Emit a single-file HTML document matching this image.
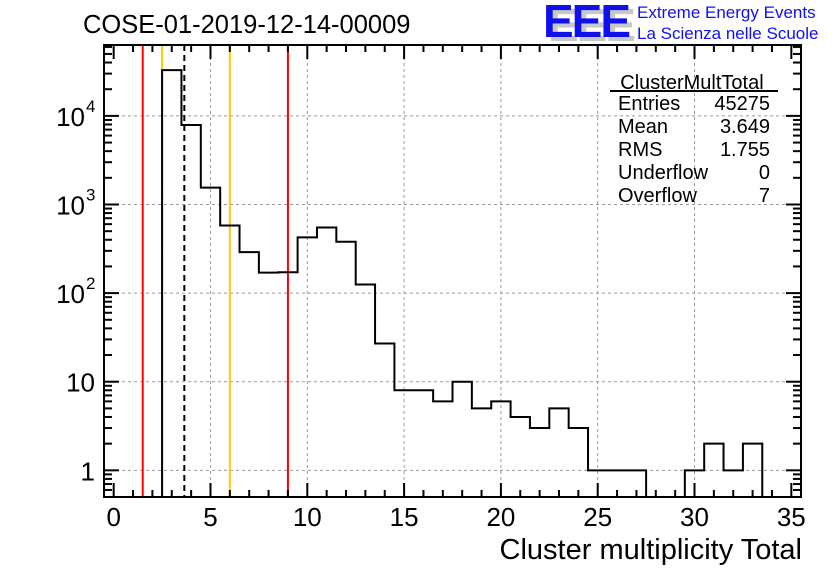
<!DOCTYPE html>
<html><head><meta charset="utf-8"><style>
body{margin:0;background:#fff;}
svg{display:block;font-family:"Liberation Sans",sans-serif;}
</style></head><body>
<svg id="c" width="836" height="572" xmlns="http://www.w3.org/2000/svg">
<rect width="836" height="572" fill="#fff"/>
<text x="83" y="33" font-size="25.5">COSE-01-2019-12-14-00009</text>
<g>
<text x="548" y="41" font-size="46" font-weight="bold" fill="#c8c8c8" letter-spacing="-2">EEE</text>
<text x="543" y="37" font-size="46" font-weight="bold" fill="#1010ee" letter-spacing="-2">EEE</text>
<text x="637" y="18" font-size="17" fill="#1010ee">Extreme Energy Events</text>
<text x="637" y="39" font-size="17" fill="#1010ee">La Scienza nelle Scuole</text>
</g>
<g id="grid"></g><g id="marks"></g><g id="axes"></g>
<g font-size="20">
<text x="692" y="89" text-anchor="middle">ClusterMultTotal</text>
<line x1="610" y1="91" x2="778" y2="91" stroke="#000" stroke-width="2"/>
<text x="618" y="110">Entries</text><text x="770" y="110" text-anchor="end">45275</text>
<text x="618" y="133">Mean</text><text x="770" y="133" text-anchor="end">3.649</text>
<text x="618" y="156">RMS</text><text x="770" y="156" text-anchor="end">1.755</text>
<text x="618" y="179">Underflow</text><text x="770" y="179" text-anchor="end">0</text>
<text x="618" y="202">Overflow</text><text x="770" y="202" text-anchor="end">7</text>
</g>
<text x="802" y="559" font-size="29" text-anchor="end">Cluster multiplicity Total</text>
</svg>
<script>
const binCenters=[3,4,5,6,7,8,9,10,11,12,13,14,15,16,17,18,19,20,21,22,23,24,25,26,27,28,29,30,31,32,33];
const binCounts=[32800,7900,1550,580,290,170,172,425,550,380,125,27,8,8,6,10,5,6,4,3,5,3,1,1,1,0,0,1,2,1,2];
const xTicks=[0,5,10,15,20,25,30,35];
const yTicks=[1,10,100,1000,10000];
const yTickLabels=["1","10","10|2","10|3","10|4"];
const redLines=[1.5,9];
const orangeLines=[2.5,6];
const meanValue=3.649;
const L=104,R=801,T=45,B=497,xmin=-0.5,xmax=35.5,ymin=Math.log10(0.5),ymax=4.8;
const X=v=>L+(v-xmin)/(xmax-xmin)*(R-L);
const Y=v=>B-(Math.log10(v)-ymin)/(ymax-ymin)*(B-T);
const NS="http://www.w3.org/2000/svg";
function mk(p,t,a){const e=document.createElementNS(NS,t);for(const k in a)e.setAttribute(k,a[k]);p.appendChild(e);return e;}
const grid=document.getElementById('grid'),marks=document.getElementById('marks'),axes=document.getElementById('axes');
xTicks.forEach(v=>{if(v>0&&v<35){const g=mk(grid,'line',{x1:X(v),x2:X(v),y1:T,y2:B,stroke:'#999','stroke-dasharray':'3,3'});

}});
yTicks.forEach(v=>{const g=mk(grid,'line',{x1:L,x2:R,y1:Y(v),y2:Y(v),stroke:'#999','stroke-dasharray':'3,3'});

});
redLines.forEach(v=>{const l=mk(marks,'line',{x1:X(v),x2:X(v),y1:T,y2:B,stroke:'#f00','stroke-width':2});

});
orangeLines.forEach(v=>{const l=mk(marks,'line',{x1:X(v),x2:X(v),y1:T,y2:B,stroke:'#ffcc00','stroke-width':2});

});
const m=mk(marks,'line',{x1:X(meanValue),x2:X(meanValue),y1:T,y2:B,stroke:'#000','stroke-width':2,'stroke-dasharray':'6,4'});


// histogram
let d='';const base=B;
binCenters.forEach((c,i)=>{const v=binCounts[i];const y=v>0?Y(v):base;const x0=X(c-0.5),x1=X(c+0.5);
d+=(i===0?`M${x0},${base}`:'')+`L${x0},${y}L${x1},${y}`;});
d+=`L${X(binCenters[binCenters.length-1]+0.5)},${base}`;
const h=mk(marks,'path',{d:d,fill:'none',stroke:'#000','stroke-width':2});


// frame
const f=mk(axes,'rect',{x:L,y:T,width:R-L,height:B-T,fill:'none',stroke:'#000','stroke-width':2});


for(let v=0;v<=35;v++){const len=v%5===0?14:7;
mk(axes,'line',{x1:X(v),x2:X(v),y1:B,y2:B-len,stroke:'#000','stroke-width':2});
mk(axes,'line',{x1:X(v),x2:X(v),y1:T,y2:T+len,stroke:'#000','stroke-width':2});}
xTicks.forEach(v=>{const t=mk(axes,'text',{x:X(v),y:B+29,'font-size':26,'text-anchor':'middle'});t.textContent=v;

});
for(let e=-1;e<=4;e++)for(let k=1;k<10;k++){const v=k*Math.pow(10,e);if(v<0.5||v>63000)continue;const len=k===1?15:8;
mk(axes,'line',{x1:L,x2:L+len,y1:Y(v),y2:Y(v),stroke:'#000','stroke-width':2});
mk(axes,'line',{x1:R,x2:R-len,y1:Y(v),y2:Y(v),stroke:'#000','stroke-width':2});}
yTicks.forEach((v,i)=>{const s=yTickLabels[i].split('|');const t=mk(axes,'text',{x:s.length>1?85:95,y:Y(v)+10,'font-size':26,'text-anchor':'end'});
t.textContent=s[0];


if(s.length>1){const sp=mk(axes,'text',{x:86,y:Y(v)-4,'font-size':17});sp.textContent=s[1];

}});
</script>
</body></html>
